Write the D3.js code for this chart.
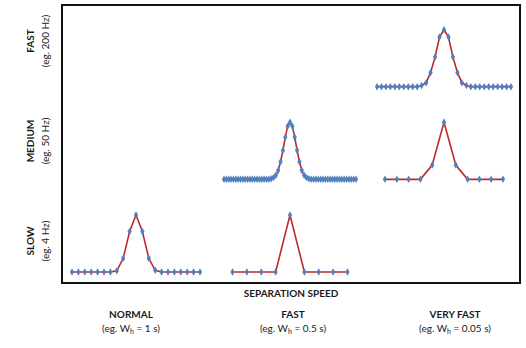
<!DOCTYPE html>
<html>
<head>
<meta charset="utf-8">
<script src="https://cdn.jsdelivr.net/npm/d3@7"></script>
<style>
  body { margin: 0; background: #fff; }
  text { font-family: Lato, "Open Sans", sans-serif; fill: #1a1a1a; }
</style>
</head>
<body>
<div id="chart"></div>
<script>
// row = sampling frequency, column = separation speed
var rowNames = ["SLOW", "MEDIUM", "FAST"];
var rowNotes = ["(eg. 4 Hz)", "(eg. 50 Hz)", "(eg. 200 Hz)"];
var colNames = ["NORMAL", "FAST", "VERY FAST"];
var colWidths = ["1 s", "0.5 s", "0.05 s"];

var slowNormal = [0,0,0,0,0,0,0,0.02,0.24,0.71,1,0.71,0.24,0.03,0,0,0,0,0,0,0];
var slowFast = [0,0,0,0,1,0,0,0,0];
var mediumFast = [0,0,0,0,0,0,0,0,0,0,0,0,0,0,0,0,0,0,0,0,
  0.01,0.03,0.07,0.16,0.31,0.51,0.74,0.93,1,0.93,0.74,0.51,0.31,0.16,0.07,0.03,0.01,
  0,0,0,0,0,0,0,0,0,0,0,0,0,0,0,0,0,0,0,0];
var mediumVeryFast = [0,0,0,0,0.25,1,0.25,0,0,0,0];
var fastVeryFast = [0,0,0,0,0,0,0,0,0,0,
  0.02,0.07,0.25,0.52,0.87,1,0.87,0.52,0.25,0.07,0.02,
  0,0,0,0,0,0,0,0,0,0];

var panels = [
  {row: "SLOW", col: "NORMAL", values: slowNormal, span: 128},
  {row: "SLOW", col: "FAST", values: slowFast, span: 115},
  {row: "MEDIUM", col: "FAST", values: mediumFast, span: 132},
  {row: "MEDIUM", col: "VERY FAST", values: mediumVeryFast, span: 118},
  {row: "FAST", col: "VERY FAST", values: fastVeryFast, span: 134}
];

var width = 526, height = 348;
var frame = {left: 62, top: 5, right: 520, bottom: 283};

var svg = d3.select("#chart").append("svg")
  .attr("width", width)
  .attr("height", height);

var rowScale = d3.scaleBand()
  .domain(rowNames)
  .range([frame.bottom, frame.top]);

var colScale = d3.scalePoint()
  .domain(colNames)
  .range([136, 444]);

var colLabelScale = d3.scalePoint()
  .domain(colNames)
  .range([131, 455]);

var rowLabelScale = d3.scalePoint()
  .domain(rowNames)
  .range([241, 41]);

svg.append("rect")
  .attr("x", frame.left)
  .attr("y", frame.top)
  .attr("width", frame.right - frame.left)
  .attr("height", frame.bottom - frame.top)
  .attr("fill", "none")
  .attr("stroke", "#111")
  .attr("stroke-width", 2);

var diamond = d3.symbol().type(d3.symbolDiamond).size(16);

panels.forEach(function(p) {
  var base = rowScale(p.row) + rowScale.bandwidth() - 11;
  var cx = colScale(p.col);
  var x = d3.scaleLinear()
    .domain([0, p.values.length - 1])
    .range([cx - p.span / 2, cx + p.span / 2]);
  var y = d3.scaleLinear()
    .domain([0, 1])
    .range([base, base - 57]);

  var line = d3.line()
    .x(function(d, i) { return x(i); })
    .y(function(d) { return y(d); });

  var g = svg.append("g");
  g.append("path")
    .datum(p.values)
    .attr("d", line)
    .attr("fill", "none")
    .attr("stroke", "#c0282d")
    .attr("stroke-width", 1.6);

  g.selectAll("path.pt")
    .data(p.values)
    .enter()
    .append("path")
      .attr("class", "pt")
      .attr("d", diamond)
      .attr("transform", function(d, i) { return "translate(" + x(i) + "," + y(d) + ")"; })
      .attr("fill", "#4f81bd");
});

// row labels (rotated)
rowNames.forEach(function(r, i) {
  var cy = rowLabelScale(r);
  svg.append("text")
    .attr("transform", "translate(30," + cy + ") rotate(-90)")
    .attr("text-anchor", "middle")
    .attr("dominant-baseline", "central")
    .style("font-size", "10px")
    .style("font-weight", "bold")
    .text(r);
  svg.append("text")
    .attr("transform", "translate(45," + cy + ") rotate(-90)")
    .attr("text-anchor", "middle")
    .attr("dominant-baseline", "central")
    .style("font-size", "10px")
    .text(rowNotes[i]);
});

svg.append("text")
  .attr("x", 291)
  .attr("y", 297)
  .attr("text-anchor", "middle")
  .style("font-size", "10px")
  .style("font-weight", "bold")
  .text("SEPARATION SPEED");

colNames.forEach(function(c, i) {
  var cx = colLabelScale(c);
  svg.append("text")
    .attr("x", cx)
    .attr("y", 318)
    .attr("text-anchor", "middle")
    .style("font-size", "10px")
    .style("font-weight", "bold")
    .text(c);
  var t = svg.append("text")
    .attr("x", cx)
    .attr("y", 332)
    .attr("text-anchor", "middle")
    .style("font-size", "10px");
  t.append("tspan").text("(eg. W");
  t.append("tspan").attr("dy", 2).style("font-size", "7px").text("h");
  t.append("tspan").attr("dy", -2).text(" = " + colWidths[i] + ")");
});
</script>
</body>
</html>
